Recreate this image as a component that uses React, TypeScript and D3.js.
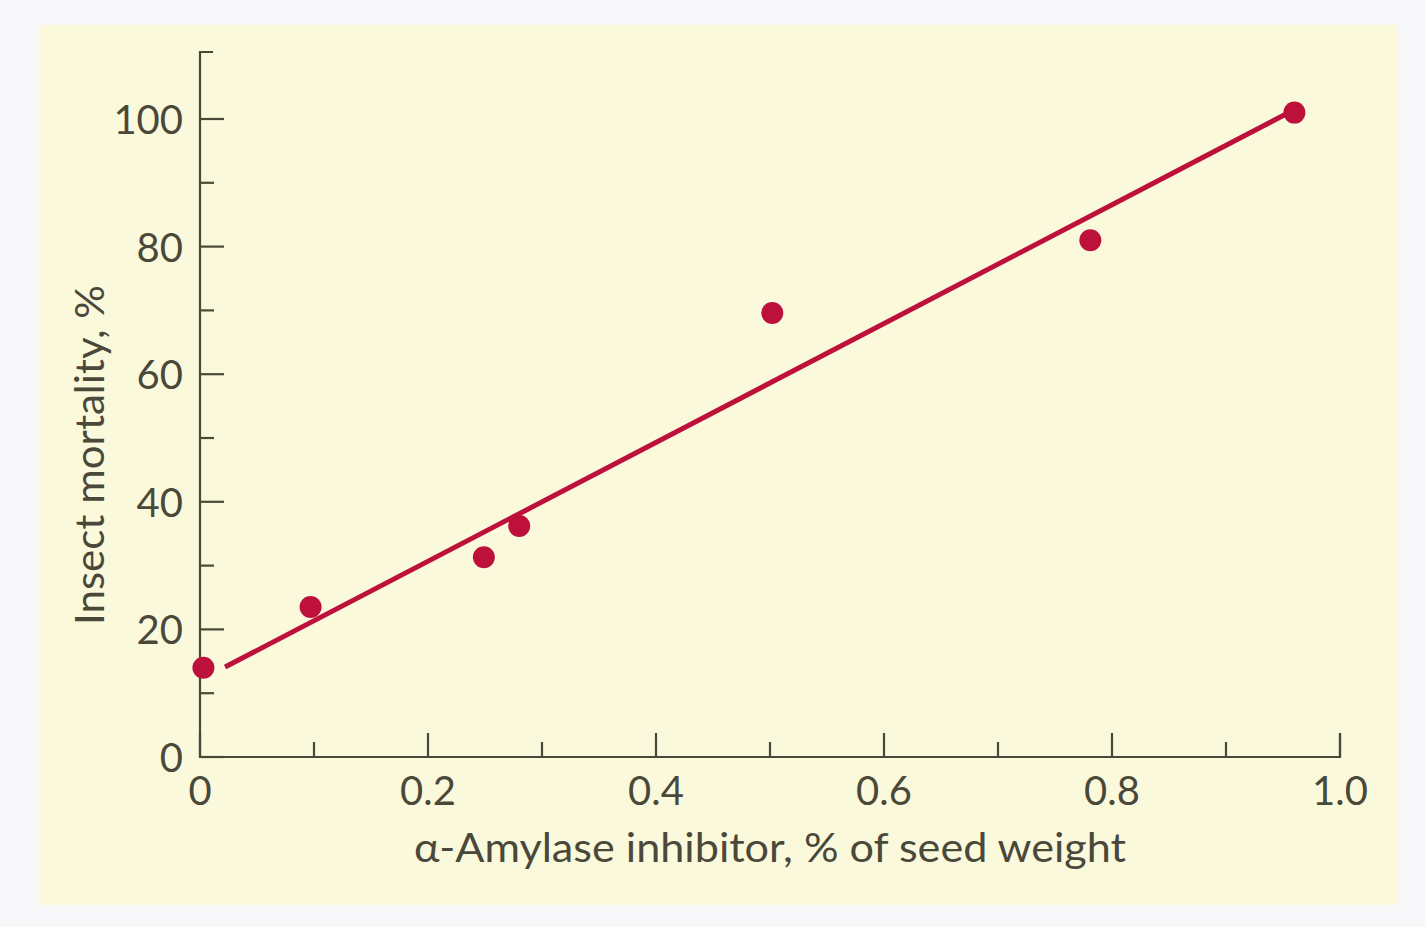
import React from "react";
import * as d3 from "d3";

const inhibitorPct = [0.003, 0.097, 0.249, 0.28, 0.502, 0.781, 0.96];
const mortalityPct = [14, 23.5, 31.3, 36.2, 69.6, 81, 101];
const fitX = [0.022, 0.954];
const fitY = [14.1, 100.9];
const xTicks = [0, 0.2, 0.4, 0.6, 0.8, 1.0];
const xMinorTicks = [0.1, 0.3, 0.5, 0.7, 0.9];
const yTicks = [0, 20, 40, 60, 80, 100];
const yMinorTicks = [10, 30, 50, 70, 90];
const xLabel = "α-Amylase inhibitor, % of seed weight";
const yLabel = "Insect mortality, %";

const W = 1425;
const H = 927;
const axisColor = "#4a4839";
const red = "#bd113b";
const font = "Lato, 'Open Sans', sans-serif";

export default function App() {
  const x = d3.scaleLinear().domain([0, 1]).range([200, 1340]);
  const y = d3.scaleLinear().domain([0, 100]).range([757, 119]);
  const yTop = y(110.5);
  const line = d3
    .line<[number, number]>()
    .x((d) => x(d[0]))
    .y((d) => y(d[1]));
  const fitPts: [number, number][] = fitX.map((v, i) => [v, fitY[i]]);

  return (
    <svg
      width={W}
      height={H}
      style={{ position: "absolute", left: 0, top: 0, display: "block" }}
    >
      <rect x={0} y={0} width={W} height={H} fill="#f8f8fa" />
      <rect x={40} y={25} width={1358} height={880} fill="#fbf9dc" />
      <path
        d={`M${x(0) + 13},${yTop}H${x(0)}V${y(0)}H${x(1)}V${y(0) - 24}`}
        fill="none"
        stroke={axisColor}
        strokeWidth={2.2}
      />
      {yTicks.map((t) => (
        <g key={"y" + t}>
          <line x1={x(0)} x2={x(0) + 24} y1={y(t)} y2={y(t)} stroke={axisColor} strokeWidth={2.2} />
          <text
            x={x(0) - 17}
            y={y(t)}
            textAnchor="end"
            dominantBaseline="central"
            fontFamily={font}
            fontSize={40}
            fill={axisColor}
          >
            {t}
          </text>
        </g>
      ))}
      {yMinorTicks.map((t) => (
        <line key={"ym" + t} x1={x(0)} x2={x(0) + 14} y1={y(t)} y2={y(t)} stroke={axisColor} strokeWidth={2.2} />
      ))}
      {xTicks.map((t) => (
        <g key={"x" + t}>
          <line x1={x(t)} x2={x(t)} y1={y(0)} y2={y(0) - 24} stroke={axisColor} strokeWidth={2.2} />
          <text
            x={x(t)}
            y={805}
            textAnchor="middle"
            fontFamily={font}
            fontSize={40}
            fill={axisColor}
          >
            {t === 0 ? "0" : t.toFixed(1)}
          </text>
        </g>
      ))}
      {xMinorTicks.map((t) => (
        <line key={"xm" + t} x1={x(t)} x2={x(t)} y1={y(0)} y2={y(0) - 15} stroke={axisColor} strokeWidth={2.2} />
      ))}
      <text
        x={770}
        y={862}
        textAnchor="middle"
        fontFamily={font}
        fontSize={40}
        textLength={712}
        lengthAdjust="spacingAndGlyphs"
        fill={axisColor}
      >
        {xLabel}
      </text>
      <text
        transform={`translate(104,455) rotate(-90)`}
        textAnchor="middle"
        fontFamily={font}
        fontSize={40}
        textLength={340}
        lengthAdjust="spacingAndGlyphs"
        fill={axisColor}
      >
        {yLabel}
      </text>
      <path d={line(fitPts) || ""} fill="none" stroke={red} strokeWidth={5} />
      {inhibitorPct.map((v, i) => (
        <circle key={"p" + i} cx={x(v)} cy={y(mortalityPct[i])} r={11} fill={red} />
      ))}
    </svg>
  );
}
